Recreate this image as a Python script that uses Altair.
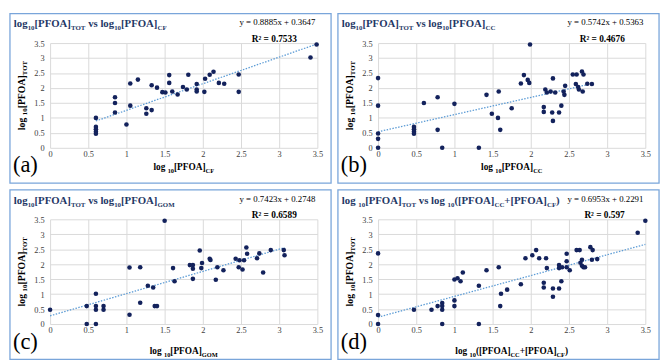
import altair as alt
import pandas as pd

TICKS = [0, 0.5, 1, 1.5, 2, 2.5, 3, 3.5]

# ---------------- data ----------------
a_x = [0.60, 0.60, 0.60, 0.60, 0.60, 0.85, 0.85, 0.85, 1.00, 1.05, 1.05, 1.15, 1.26, 1.26,
       1.33, 1.33, 1.40, 1.47, 1.51, 1.56, 1.56, 1.60, 1.67, 1.74, 1.79, 1.81, 1.92, 1.92,
       1.92, 2.02, 2.03, 2.09, 2.14, 2.21, 2.28, 2.47, 2.47, 3.41, 3.49]
a_y = [1.00, 0.70, 0.62, 0.54, 0.47, 1.69, 1.50, 1.18, 0.78, 2.15, 1.41, 2.28, 1.32, 1.14,
       1.26, 2.09, 2.01, 1.86, 1.85, 2.43, 2.17, 1.88, 1.78, 2.03, 1.95, 2.44, 2.13, 1.95,
       1.88, 1.87, 2.31, 2.44, 2.54, 2.17, 2.14, 2.45, 1.87, 3.02, 3.45]

b_x = [0, 0, 0, 0, 0, 0.47, 0.47, 0.47, 0.47, 0.60, 0.78, 0.78, 0.84, 1.00, 1.32, 1.42,
       1.49, 1.57, 1.58, 1.60, 1.75, 1.87, 1.91, 1.96, 1.98, 1.99, 2.17, 2.17, 2.19, 2.21,
       2.26, 2.28, 2.29, 2.29, 2.32, 2.37, 2.40, 2.43, 2.44, 2.45, 2.55, 2.59, 2.60, 2.62,
       2.63, 2.68, 2.67, 2.69, 2.74, 2.80]
b_y = [2.33, 1.41, 0.48, 0.30, 0, 0.70, 0.62, 0.54, 0.47, 1.50, 1.69, 0.60, 0, 1.47, 0, 1.77,
       1.14, 1.00, 1.88, 0.60, 1.32, 2.15, 2.43, 2.27, 2.17, 3.45, 1.36, 1.20, 1.95, 1.85,
       1.88, 1.18, 2.32, 0.90, 1.85, 1.18, 1.41, 1.88, 1.77, 2.07, 2.45, 2.13, 2.45, 2.03,
       1.95, 1.88, 2.55, 2.45, 2.14, 2.13]

c_x = [0, 0.48, 0.48, 0.60, 0.60, 0.60, 0.60, 0.70, 0.70, 1.04, 1.04, 1.18, 1.18, 1.28,
       1.35, 1.37, 1.40, 1.50, 1.61, 1.63, 1.83, 1.87, 1.87, 1.87, 1.96, 1.98, 1.99, 2.09,
       2.10, 2.17, 2.19, 2.27, 2.43, 2.47, 2.48, 2.52, 2.54, 2.57, 2.58, 2.71, 2.74, 2.79,
       2.89, 3.06, 3.07]
c_y = [0.48, 0.60, 0, 1.01, 0.60, 0.48, 0, 0.60, 0.48, 0.31, 1.89, 1.90, 0.71, 1.28,
       1.22, 0.60, 0.60, 3.45, 1.87, 1.43, 1.97, 1.97, 1.85, 1.51, 2.46, 1.87, 2.04, 2.18,
       2.14, 1.48, 1.90, 1.80, 2.18, 1.90, 2.13, 1.82, 2.13, 2.56, 2.35, 2.20, 2.36, 1.72,
       2.47, 2.47, 2.30]

d_x = [0, 0, 0, 0.47, 0.70, 0.78, 0.84, 0.84, 0.84, 0.84, 1.00, 1.00, 1.00, 1.04, 1.08,
       1.11, 1.32, 1.32, 1.42, 1.58, 1.60, 1.61, 1.69, 1.87, 1.93, 2.02, 2.07, 2.11, 2.17,
       2.17, 2.20, 2.21, 2.29, 2.29, 2.37, 2.37, 2.37, 2.40, 2.41, 2.47, 2.47, 2.47, 2.51,
       2.60, 2.64, 2.65, 2.67, 2.67, 2.69, 2.71, 2.78, 2.80, 2.81, 2.87, 3.40, 3.50]
d_y = [2.36, 0.30, 0, 0.48, 0.48, 0.60, 0.70, 0.60, 0.48, 0, 0.79, 0.60, 1.49, 1.53, 1.43,
       1.72, 1.28, 0, 1.80, 1.90, 0.60, 1.01, 1.15, 1.33, 2.20, 2.30, 2.47, 2.20, 1.38,
       1.22, 2.20, 1.87, 1.19, 0.91, 1.97, 1.87, 1.19, 1.43, 1.90, 1.90, 2.35, 2.10, 1.80,
       2.47, 2.47, 2.05, 2.15, 1.95, 1.90, 1.90, 2.57, 2.15, 2.47, 2.17, 3.05, 3.45]

slopes = [0.8885, 0.5742, 0.7423, 0.6953]
intercepts = [0.3647, 0.5363, 0.2748, 0.2291]
equations = ["y = 0.8885x + 0.3647", "y = 0.5742x + 0.5363",
             "y = 0.7423x + 0.2748", "y = 0.6953x + 0.2291"]
r2_labels = ["R² = 0.7533", "R² = 0.4676", "R² = 0.6589", "R² = 0.597"]
letters = ["(a)", "(b)", "(c)", "(d)"]

# rich-text pieces: (text, is_subscript)
titles = [
    [("log", 0), ("10", 1), ("[PFOA]", 0), ("TOT", 1), (" vs log", 0), ("10", 1), ("[PFOA]", 0), ("CF", 1)],
    [("log", 0), ("10", 1), ("[PFOA]", 0), ("TOT", 1), (" vs log", 0), ("10", 1), ("[PFOA]", 0), ("CC", 1)],
    [("log", 0), ("10", 1), ("[PFOA]", 0), ("TOT", 1), (" vs log", 0), ("10", 1), ("[PFOA]", 0), ("GOM", 1)],
    [("log ", 0), ("10", 1), ("[PFOA]", 0), ("TOT", 1), (" vs log ", 0), ("10", 1), ("([PFOA]", 0),
     ("CC", 1), ("+[PFOA]", 0), ("CF", 1), (")", 0)],
]
x_titles = [
    [("log ", 0), ("10", 1), ("[PFOA]", 0), ("CF", 1)],
    [("log ", 0), ("10", 1), ("[PFOA]", 0), ("CC", 1)],
    [("log ", 0), ("10", 1), ("[PFOA]", 0), ("GOM", 1)],
    [("log ", 0), ("10", 1), ("([PFOA]", 0), ("CC", 1), ("+[PFOA]", 0), ("CF", 1), (")", 0)],
]
y_title = [("log ", 0), ("10", 1), ("[PFOA]", 0), ("TOT", 1)]

# ---------------- style ----------------
FONT = "Liberation Serif"
NAVY = "#1f3866"
POINT = "#13225c"
TREND = "#5b9bd5"
BORDER = "#79a5da"
GRID = "#d9d9d9"
PW, PH = 273, 107           # plot area
L, T, R, B = 41, 30, 14, 36  # panel margins around the plot

# Times/Liberation Serif Bold advance widths (per 1000 em)
WB = {'l': 278, 'o': 500, 'g': 500, '1': 500, '0': 500, '[': 333, ']': 333, 'P': 611,
      'F': 611, 'O': 778, 'A': 722, 'T': 667, 'C': 722, 'G': 778, 'M': 944, 'v': 500,
      's': 389, ' ': 250, '(': 333, ')': 333, '+': 570}


def tw(s, size):
    return sum(WB.get(ch, 500) for ch in s) * size / 1000.0


ONE = alt.Data(values=[{"k": 0}])


def rich(segs, x, y, size, sub, color, angle=0, center=False, shift=3):
    total = sum(tw(t, sub if s else size) for t, s in segs)
    pos = -total / 2 if center else 0
    out = []
    for t, s in segs:
        fs = sub if s else size
        lead = len(t) - len(t.lstrip(" "))
        p = pos + tw(" " * lead, fs)
        txt = t.strip(" ")
        if angle == 0:
            xx, yy = x + p, y + (shift if s else 0)
        else:
            xx, yy = x + (shift if s else 0), y - p
        out.append(
            alt.Chart(ONE).mark_text(
                text=txt, font=FONT, fontSize=fs, fontWeight="bold", color=color,
                align="left", baseline="alphabetic", angle=angle,
            ).encode(x=alt.value(xx), y=alt.value(yy))
        )
        pos += tw(t, fs)
    return out


def plain(text, x, y, size, weight="normal", align="left", color="black"):
    return alt.Chart(ONE).mark_text(
        text=text, font=FONT, fontSize=size, fontWeight=weight, color=color,
        align=align, baseline="alphabetic",
    ).encode(x=alt.value(x), y=alt.value(y))


def panel(i, xs, ys, xt_off):
    df = pd.DataFrame({"x": xs, "y": ys})
    lo, hi = min(xs), max(xs)
    tr = pd.DataFrame({"x": [lo, hi],
                       "y": [slopes[i] * lo + intercepts[i], slopes[i] * hi + intercepts[i]]})
    xscale = alt.Scale(domain=[0, 3.5], nice=False, zero=False)
    yscale = alt.Scale(domain=[0, 3.5], nice=False, zero=False)
    common = dict(values=TICKS, format=".1~f", title=None, domain=False, ticks=False,
                  grid=True, gridColor=GRID, gridWidth=1, labelFont=FONT, labelFontSize=8.5,
                  labelColor="#404040", labelFlush=False, labelOverlap=False)
    xaxis = alt.Axis(labelPadding=2, **common)
    yaxis = alt.Axis(labelPadding=6, **common)

    border = alt.Chart(ONE).mark_rect(fillOpacity=0, fill="white", stroke=BORDER,
                                      strokeWidth=1.3).encode(
        x=alt.value(-L), x2=alt.value(PW + R), y=alt.value(-T), y2=alt.value(PH + B))

    pts = alt.Chart(df).mark_circle(size=22, color=POINT, opacity=1).encode(
        x=alt.X("x:Q", scale=xscale, axis=xaxis),
        y=alt.Y("y:Q", scale=yscale, axis=yaxis))

    line = alt.Chart(tr).mark_line(color=TREND, strokeWidth=1.3, strokeDash=[1.5, 1.5]).encode(
        x=alt.X("x:Q", scale=xscale, axis=xaxis), y=alt.Y("y:Q", scale=yscale, axis=yaxis))

    layers = [border, line, pts]
    layers += rich(titles[i], -L + 4, -T + 14, 11, 7, NAVY, shift=3)
    layers.append(plain(equations[i], PW - 2, -T + 12, 9, align="right"))
    layers.append(plain(r2_labels[i], PW - 21, -1, 9.5, weight="bold", align="right"))
    layers.append(plain(letters[i], -L + 3, PH + 25, 23))
    layers += rich(x_titles[i], PW / 2, PH + xt_off, 9.5, 6.5, "black", center=True, shift=2.5)
    ytot = sum(tw(t, 7 if s else 10) for t, s in y_title)
    layers += rich(y_title, -26, PH / 2 + ytot / 2, 10, 7, "black", angle=270, shift=2.5)
    return alt.layer(*layers).properties(width=PW, height=PH)


pa = panel(0, a_x, a_y, 23)
pb = panel(1, b_x, b_y, 23)
pc = panel(2, c_x, c_y, 31)
pd_ = panel(3, d_x, d_y, 31)

chart = alt.vconcat(
    alt.hconcat(pa, pb, spacing=3),
    alt.hconcat(pc, pd_, spacing=3),
    spacing=3,
).properties(padding=0, background="white").configure_view(stroke="transparent")

chart.save("out.html", embed_options={"renderer": "svg", "actions": False})
